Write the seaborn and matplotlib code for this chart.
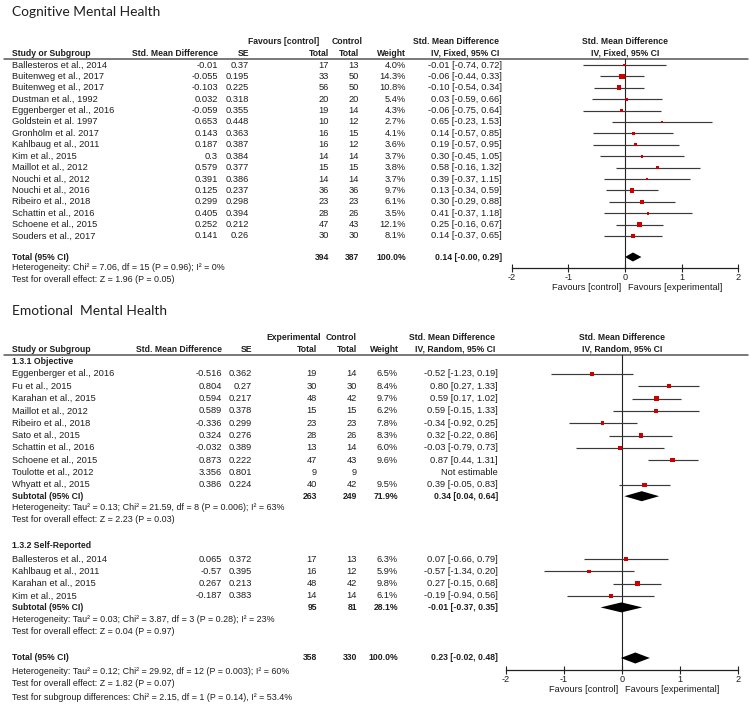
import matplotlib
matplotlib.use("Agg")
import matplotlib.pyplot as plt
import seaborn as sns
import numpy as np
import pandas as pd
from decimal import Decimal, ROUND_HALF_UP

# ---------------- Cognitive Mental Health (IV, Fixed) ----------------
cog_studies = ["Ballesteros et al., 2014", "Buitenweg et al., 2017", "Buitenweg et al., 2017",
               "Dustman et al., 1992", "Eggenberger et al., 2016", "Goldstein et al. 1997",
               "Gronhölm et al. 2017", "Kahlbaug et al., 2011", "Kim et al., 2015",
               "Maillot et al., 2012", "Nouchi et al., 2012", "Nouchi et al., 2016",
               "Ribeiro et al., 2018", "Schattin et al., 2016", "Schoene et al., 2015",
               "Souders et al., 2017"]
cog_smd = [-0.01, -0.055, -0.103, 0.032, -0.059, 0.653, 0.143, 0.187, 0.3, 0.579,
           0.391, 0.125, 0.299, 0.405, 0.252, 0.141]
cog_se = [0.37, 0.195, 0.225, 0.318, 0.355, 0.448, 0.363, 0.387, 0.384, 0.377,
          0.386, 0.237, 0.298, 0.394, 0.212, 0.26]
cog_n_exp = [17, 33, 56, 20, 19, 10, 16, 16, 14, 15, 14, 36, 23, 28, 47, 30]
cog_n_ctl = [13, 50, 50, 20, 14, 12, 15, 12, 14, 15, 14, 36, 23, 26, 43, 30]
cog_weight = [4.0, 14.3, 10.8, 5.4, 4.3, 2.7, 4.1, 3.6, 3.7, 3.8, 3.7, 9.7, 6.1, 3.5, 12.1, 8.1]
cog_lo = [-0.74, -0.44, -0.54, -0.59, -0.75, -0.23, -0.57, -0.57, -0.45, -0.16,
          -0.37, -0.34, -0.29, -0.37, -0.16, -0.37]
cog_hi = [0.72, 0.33, 0.34, 0.66, 0.64, 1.53, 0.85, 0.95, 1.05, 1.32,
          1.15, 0.59, 0.88, 1.18, 0.67, 0.65]
cog_total = dict(n_exp=394, n_ctl=387, weight=100.0, est=0.14, lo=-0.00, hi=0.29)
cog_notes = ["Heterogeneity: Chi² = 7.06, df = 15 (P = 0.96); I² = 0%",
             "Test for overall effect: Z = 1.96 (P = 0.05)"]

# ---------------- Emotional Mental Health (IV, Random) ----------------
obj_studies = ["Eggenberger et al., 2016", "Fu et al., 2015", "Karahan et al., 2015",
               "Maillot et al., 2012", "Ribeiro et al., 2018", "Sato et al., 2015",
               "Schattin et al., 2016", "Schoene et al., 2015", "Toulotte et al., 2012",
               "Whyatt et al., 2015"]
obj_smd = [-0.516, 0.804, 0.594, 0.589, -0.336, 0.324, -0.032, 0.873, 3.356, 0.386]
obj_se = [0.362, 0.27, 0.217, 0.378, 0.299, 0.276, 0.389, 0.222, 0.801, 0.224]
obj_n_exp = [19, 30, 48, 15, 23, 28, 13, 47, 9, 40]
obj_n_ctl = [14, 30, 42, 15, 23, 26, 14, 43, 9, 42]
obj_weight = [6.5, 8.4, 9.7, 6.2, 7.8, 8.3, 6.0, 9.6, np.nan, 9.5]
obj_lo = [-1.23, 0.27, 0.17, -0.15, -0.92, -0.22, -0.79, 0.44, np.nan, -0.05]
obj_hi = [0.19, 1.33, 1.02, 1.33, 0.25, 0.86, 0.73, 1.31, np.nan, 0.83]
obj_subtotal = dict(n_exp=263, n_ctl=249, weight=71.9, est=0.34, lo=0.04, hi=0.64)
obj_notes = ["Heterogeneity: Tau² = 0.13; Chi² = 21.59, df = 8 (P = 0.006); I² = 63%",
             "Test for overall effect: Z = 2.23 (P = 0.03)"]

self_studies = ["Ballesteros et al., 2014", "Kahlbaug et al., 2011", "Karahan et al., 2015",
                "Kim et al., 2015"]
self_smd = [0.065, -0.57, 0.267, -0.187]
self_se = [0.372, 0.395, 0.213, 0.383]
self_n_exp = [17, 16, 48, 14]
self_n_ctl = [13, 12, 42, 14]
self_weight = [6.3, 5.9, 9.8, 6.1]
self_lo = [-0.66, -1.34, -0.15, -0.94]
self_hi = [0.79, 0.20, 0.68, 0.56]
self_subtotal = dict(n_exp=95, n_ctl=81, weight=28.1, est=-0.01, lo=-0.37, hi=0.35)
self_notes = ["Heterogeneity: Tau² = 0.03; Chi² = 3.87, df = 3 (P = 0.28); I² = 23%",
              "Test for overall effect: Z = 0.04 (P = 0.97)"]

emo_total = dict(n_exp=358, n_ctl=330, weight=100.0, est=0.23, lo=-0.02, hi=0.48)
emo_notes = ["Heterogeneity: Tau² = 0.12; Chi² = 29.92, df = 12 (P = 0.003); I² = 60%",
             "Test for overall effect: Z = 1.82 (P = 0.07)",
             "Test for subgroup differences: Chi² = 2.15, df = 1 (P = 0.14), I² = 53.4%"]

x_ticks = [-2, -1, 0, 1, 2]
x_ticklabels = ["-2", "-1", "0", "1", "2"]

# ---------------- styling ----------------
sns.set_theme(style="white")
plt.rcParams["font.family"] = ["Liberation Sans", "DejaVu Sans"]
plt.rcParams["axes.unicode_minus"] = False

W, H = 750, 705
FS = 6.7
FS_BOLD = 6.25
FS_NOTE = 6.4
TXT = "#1e1e1e"
RED = "#cc0000"
LINE = "#3a3a3a"

fig = plt.figure(figsize=(7.5, 7.05), dpi=100)
fig.patch.set_facecolor("white")
bg = fig.add_axes([0, 0, 1, 1])
bg.set_xlim(0, W)
bg.set_ylim(H, 0)
bg.axis("off")


def t(x, y, s, ha="left", bold=False, size=None, **kw):
    if size is None:
        size = FS_BOLD if bold else FS
    bg.text(x, y, s, ha=ha, va="center", fontsize=size,
            fontweight="bold" if bold else "normal", color=TXT, **kw)


def fmt(v):
    return str(Decimal(str(v)).quantize(Decimal("0.01"), rounding=ROUND_HALF_UP))


def ci_text(est, lo, hi):
    return f"{fmt(est)} [{fmt(lo)}, {fmt(hi)}]"


def forest_axes(x_m2, x_p2, y_top, y_axis):
    ax = fig.add_axes([x_m2 / W, 1 - y_axis / H, (x_p2 - x_m2) / W, (y_axis - y_top) / H])
    ax.set_facecolor("none")
    ax.set_xlim(-2, 2)
    ax.set_ylim(y_axis, y_top)
    for s in ["left", "top", "right"]:
        ax.spines[s].set_visible(False)
    ax.spines["bottom"].set_color("#222222")
    ax.spines["bottom"].set_linewidth(0.9)
    ax.set_xticks(x_ticks)
    ax.set_xticklabels(x_ticklabels)
    ax.set_yticks([])
    ax.tick_params(axis="x", direction="inout", length=6, width=0.8, color="#222222",
                   labelsize=6.6, labelcolor=TXT, pad=0.5, bottom=True)
    ax.axvline(0, color="#222222", lw=0.8, zorder=1)
    ax.set_xlabel("")
    ax.set_ylabel("")
    return ax


def study_rows(ax, y0, step, names, smd, se, ne, nc, wt, lo, hi, cols):
    ys = [y0 + i * step for i in range(len(names))]
    for i, y in enumerate(ys):
        t(12, y, names[i])
        t(cols["smd"], y, str(smd[i]), ha="right")
        t(cols["se"], y, str(se[i]), ha="right")
        t(cols["ne"], y, str(ne[i]), ha="right")
        t(cols["nc"], y, str(nc[i]), ha="right")
        if np.isnan(wt[i]):
            t(cols["ci"], y, "Not estimable", ha="right")
        else:
            t(cols["wt"], y, f"{wt[i]:.1f}%", ha="right")
            t(cols["ci"], y, ci_text(smd[i], lo[i], hi[i]), ha="right")
    df = pd.DataFrame({"y": ys, "smd": smd, "lo": lo, "hi": hi, "w": wt}).dropna()
    ax.hlines(df["y"], df["lo"], df["hi"], color=LINE, lw=0.85, zorder=2)
    side_pt = 1.4 * np.sqrt(df["w"].to_numpy()) * 0.72
    sns.scatterplot(data=df, x="smd", y="y", marker="s", s=side_pt ** 2, color=RED,
                    edgecolor="none", linewidth=0, legend=False, ax=ax, zorder=3)
    ax.set_xlabel("")
    ax.set_ylabel("")
    return ys


def summary_row(ax, y, label, d, cols, half_h):
    t(12, y, label, bold=True)
    t(cols["ne"], y, str(d["n_exp"]), ha="right", bold=True)
    t(cols["nc"], y, str(d["n_ctl"]), ha="right", bold=True)
    t(cols["wt"], y, f"{d['weight']:.1f}%", ha="right", bold=True)
    t(cols["ci"], y, ci_text(d["est"], d["lo"], d["hi"]), ha="right", bold=True)
    ax.fill([d["lo"], d["est"], d["hi"], d["est"]], [y, y - half_h, y, y + half_h],
            color="black", lw=0, zorder=4)


def favours(x0, y):
    t(x0 - 4, y, "Favours [control]", ha="right")
    t(x0 + 3, y, "Favours [experimental]", ha="left")


TITLE_FONT = ["Lato", "DejaVu Sans"]

# ================= TOP PANEL =================
cols_top = dict(smd=218, se=249, ne=329, nc=359, wt=406, ci=502)
top_x_m2, top_x_p2 = 511.7, 738.3
top_x0 = (top_x_m2 + top_x_p2) / 2
bg.text(12, 12, "Cognitive Mental Health", ha="left", va="center", fontsize=9.9,
        family=TITLE_FONT, color=TXT)
t(319, 42, "Favours [control]", ha="right", bold=True)
t(363, 42, "Control", ha="right", bold=True)
t(499, 42, "Std. Mean Difference", ha="right", bold=True)
t(top_x0, 42, "Std. Mean Difference", ha="center", bold=True)
t(12, 53, "Study or Subgroup", bold=True)
t(218, 53, "Std. Mean Difference", ha="right", bold=True)
t(249, 53, "SE", ha="right", bold=True)
t(329, 53, "Total", ha="right", bold=True)
t(359, 53, "Total", ha="right", bold=True)
t(406, 53, "Weight", ha="right", bold=True)
t(499, 53, "IV, Fixed, 95% CI", ha="right", bold=True)
t(top_x0, 53, "IV, Fixed, 95% CI", ha="center", bold=True)
bg.plot([4, 748], [59, 59], color="#555555", lw=1.1)

ax1 = forest_axes(top_x_m2, top_x_p2, 59, 268)
study_rows(ax1, 65, 11.4, cog_studies, cog_smd, cog_se, cog_n_exp, cog_n_ctl,
           cog_weight, cog_lo, cog_hi, cols_top)
summary_row(ax1, 257, "Total (95% CI)", cog_total, cols_top, 4.5)
t(12, 268, cog_notes[0], size=FS_NOTE)
t(12, 279, cog_notes[1], size=FS_NOTE)
favours(top_x0, 287)

# ================= BOTTOM PANEL =================
cols_bot = dict(smd=222, se=252, ne=317, nc=357, wt=398, ci=498)
bot_x_m2, bot_x_p2 = 506.0, 738.0
bot_x0 = (bot_x_m2 + bot_x_p2) / 2
bg.text(12, 311, "Emotional  Mental Health", ha="left", va="center", fontsize=9.9,
        family=TITLE_FONT, color=TXT)
t(321, 337, "Experimental", ha="right", bold=True)
t(357, 337, "Control", ha="right", bold=True)
t(495, 337, "Std. Mean Difference", ha="right", bold=True)
t(bot_x0, 337, "Std. Mean Difference", ha="center", bold=True)
t(12, 349, "Study or Subgroup", bold=True)
t(222, 349, "Std. Mean Difference", ha="right", bold=True)
t(252, 349, "SE", ha="right", bold=True)
t(317, 349, "Total", ha="right", bold=True)
t(357, 349, "Total", ha="right", bold=True)
t(399, 349, "Weight", ha="right", bold=True)
t(495, 349, "IV, Random, 95% CI", ha="right", bold=True)
t(bot_x0, 349, "IV, Random, 95% CI", ha="center", bold=True)
bg.plot([4, 748], [355, 355], color="#555555", lw=1.1)

ax2 = forest_axes(bot_x_m2, bot_x_p2, 355, 670)
t(12, 362, "1.3.1 Objective", bold=True)
ys_obj = study_rows(ax2, 374, 12.3, obj_studies, obj_smd, obj_se, obj_n_exp, obj_n_ctl,
                    obj_weight, obj_lo, obj_hi, cols_bot)
summary_row(ax2, ys_obj[-1] + 11.5, "Subtotal (95% CI)", obj_subtotal, cols_bot, 5)
t(12, ys_obj[-1] + 23, obj_notes[0], size=FS_NOTE)
t(12, ys_obj[-1] + 35, obj_notes[1], size=FS_NOTE)

t(12, 545, "1.3.2 Self-Reported", bold=True)
ys_self = study_rows(ax2, 559, 12.3, self_studies, self_smd, self_se, self_n_exp, self_n_ctl,
                     self_weight, self_lo, self_hi, cols_bot)
summary_row(ax2, ys_self[-1] + 11.5, "Subtotal (95% CI)", self_subtotal, cols_bot, 5)
t(12, ys_self[-1] + 24, self_notes[0], size=FS_NOTE)
t(12, ys_self[-1] + 36, self_notes[1], size=FS_NOTE)

summary_row(ax2, 658, "Total (95% CI)", emo_total, cols_bot, 5.5)
t(12, 671, emo_notes[0], size=FS_NOTE)
t(12, 684, emo_notes[1], size=FS_NOTE)
t(12, 697, emo_notes[2], size=FS_NOTE)
favours(bot_x0, 690)

fig.savefig("out.png", dpi=100, facecolor="white")
